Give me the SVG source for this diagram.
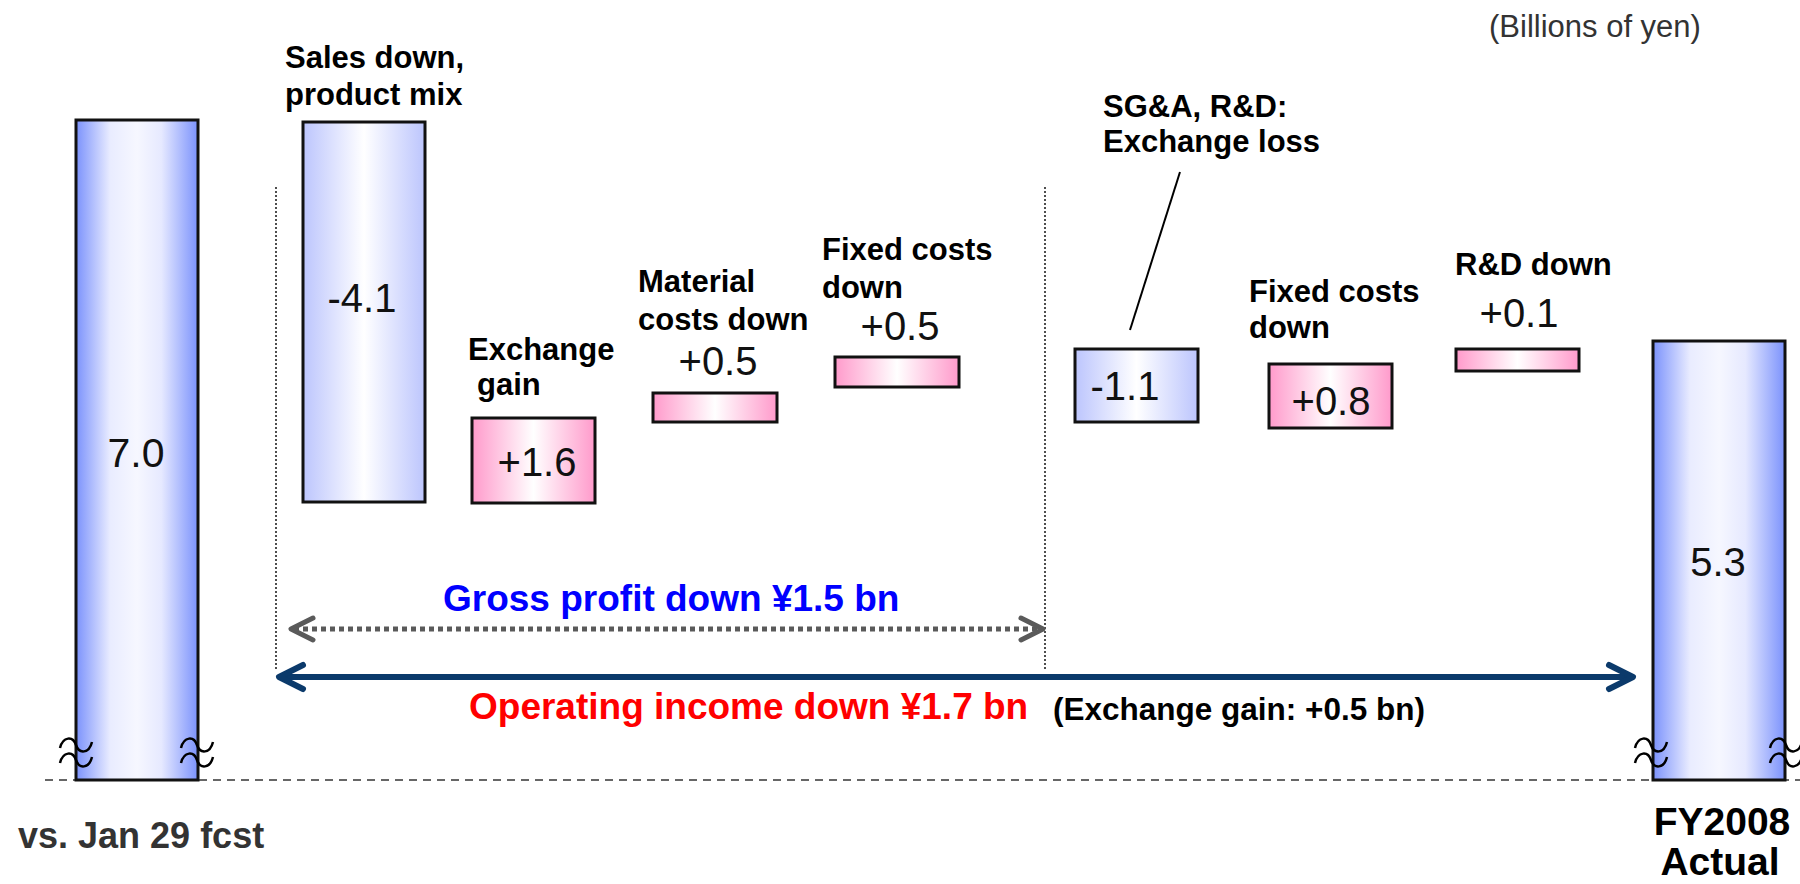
<svg xmlns="http://www.w3.org/2000/svg" width="1800" height="884" viewBox="0 0 1800 884">
<defs>
<linearGradient id="gBig" x1="0" y1="0" x2="1" y2="0">
<stop offset="0" stop-color="#7b92fc"/>
<stop offset="0.28" stop-color="#e9ecff"/>
<stop offset="0.5" stop-color="#f6f7ff"/>
<stop offset="0.7" stop-color="#e6e9ff"/>
<stop offset="1" stop-color="#7b92fc"/>
</linearGradient>
<linearGradient id="gBlue" x1="0" y1="0" x2="1" y2="0">
<stop offset="0" stop-color="#bcc5fd"/>
<stop offset="0.5" stop-color="#ffffff"/>
<stop offset="1" stop-color="#bcc5fd"/>
</linearGradient>
<linearGradient id="gPink" x1="0" y1="0" x2="1" y2="0">
<stop offset="0" stop-color="#ff9acb"/>
<stop offset="0.5" stop-color="#ffffff"/>
<stop offset="1" stop-color="#ff9acb"/>
</linearGradient>
<style>
.bar{stroke:#111;stroke-width:3}
.big{fill:url(#gBig)}
.blue{fill:url(#gBlue)}
.pink{fill:url(#gPink)}
.num{font-family:"Liberation Sans",Arial,sans-serif;font-size:40px;fill:#111;text-anchor:middle}
.lbl{font-family:"Liberation Sans",Arial,sans-serif;font-size:31px;font-weight:bold;fill:#000}
.wave{fill:none;stroke:#000;stroke-width:2.5}
.dotv{stroke:#222;stroke-width:1.6;stroke-dasharray:2 2}
</style>
</defs>
<rect width="1800" height="884" fill="#fff"/>

<text x="1489" y="37" style="font-family:'Liberation Sans',Arial,sans-serif;font-size:31px;fill:#333">(Billions of yen)</text>

<g id="baseline">
<line x1="45" y1="780" x2="1800" y2="780" stroke="#666" stroke-width="2" stroke-dasharray="8 6"/>
</g>

<g id="bar-start">
<rect class="bar big" x="76" y="120" width="122" height="660"/>
<text class="num" x="136" y="467" style="font-size:41px">7.0</text>
<path class="wave" d="M60,748 C63,736 73,736 76,745 C79,754 89,754 92,742"/>
<path class="wave" d="M60,763 C63,751 73,751 76,760 C79,769 89,769 92,757"/>
<path class="wave" d="M181,748 C184,736 194,736 197,745 C200,754 210,754 213,742"/>
<path class="wave" d="M181,763 C184,751 194,751 197,760 C200,769 210,769 213,757"/>
<text x="18" y="848" style="font-family:'Liberation Sans',Arial,sans-serif;font-size:36px;font-weight:bold;fill:#333">vs. Jan 29 fcst</text>
</g>

<g id="sales">
<rect class="bar blue" x="303" y="122" width="122" height="380"/>
<text class="num" x="362" y="312">-4.1</text>
<text class="lbl" x="285" y="68">Sales down,</text>
<text class="lbl" x="285" y="105">product mix</text>
</g>

<g id="exchange-gain">
<rect class="bar pink" x="472" y="418" width="123" height="85"/>
<text class="num" x="537" y="476">+1.6</text>
<text class="lbl" x="468" y="360">Exchange</text>
<text class="lbl" x="477" y="395">gain</text>
</g>

<g id="material">
<rect class="bar pink" x="653" y="393" width="124" height="29"/>
<text class="num" x="718" y="375">+0.5</text>
<text class="lbl" x="638" y="292">Material</text>
<text class="lbl" x="638" y="330">costs down</text>
</g>

<g id="fixed1">
<rect class="bar pink" x="835" y="357" width="124" height="30"/>
<text class="num" x="900" y="340">+0.5</text>
<text class="lbl" x="822" y="260">Fixed costs</text>
<text class="lbl" x="822" y="298">down</text>
</g>

<g id="sga">
<rect class="bar blue" x="1075" y="349" width="123" height="73"/>
<text class="num" x="1125" y="400">-1.1</text>
<text class="lbl" x="1103" y="117">SG&amp;A, R&amp;D:</text>
<text class="lbl" x="1103" y="152">Exchange loss</text>
<line x1="1180" y1="172" x2="1130" y2="330" stroke="#000" stroke-width="2"/>
</g>

<g id="fixed2">
<rect class="bar pink" x="1269" y="364" width="123" height="64"/>
<text class="num" x="1331" y="415">+0.8</text>
<text class="lbl" x="1249" y="302">Fixed costs</text>
<text class="lbl" x="1249" y="338">down</text>
</g>

<g id="rd">
<rect class="bar pink" x="1456" y="349" width="123" height="22"/>
<text class="num" x="1519" y="327">+0.1</text>
<text class="lbl" x="1455" y="275">R&amp;D down</text>
</g>

<g id="bar-end">
<rect class="bar big" x="1653" y="341" width="132" height="439"/>
<text class="num" x="1718" y="576">5.3</text>
<path class="wave" d="M1635,748 C1638,736 1648,736 1651,745 C1654,754 1664,754 1667,742"/>
<path class="wave" d="M1635,763 C1638,751 1648,751 1651,760 C1654,769 1664,769 1667,757"/>
<path class="wave" d="M1770,748 C1773,736 1783,736 1786,745 C1789,754 1799,754 1802,742"/>
<path class="wave" d="M1770,763 C1773,751 1783,751 1786,760 C1789,769 1799,769 1802,757"/>
<text x="1722" y="835" text-anchor="middle" style="font-family:'Liberation Sans',Arial,sans-serif;font-size:39px;font-weight:bold;fill:#000">FY2008</text>
<text x="1720" y="875" text-anchor="middle" style="font-family:'Liberation Sans',Arial,sans-serif;font-size:39px;font-weight:bold;fill:#000">Actual</text>
</g>

<g id="connectors">
<line class="dotv" x1="276" y1="187" x2="276" y2="670"/>
<line class="dotv" x1="1045" y1="187" x2="1045" y2="671"/>
<line x1="294" y1="629" x2="1040" y2="629" stroke="#5a5a5a" stroke-width="5" stroke-dasharray="5 4"/>
<polyline points="313,618 291,629 313,640" fill="none" stroke="#5a5a5a" stroke-width="5" stroke-linecap="round" stroke-linejoin="round"/>
<polyline points="1021,618 1043,629 1021,640" fill="none" stroke="#5a5a5a" stroke-width="5" stroke-linecap="round" stroke-linejoin="round"/>
<line x1="281" y1="677" x2="1631" y2="677" stroke="#0b3a6b" stroke-width="6"/>
<polyline points="303,665 279,677 303,689" fill="none" stroke="#0b3a6b" stroke-width="6" stroke-linecap="round" stroke-linejoin="round"/>
<polyline points="1609,665 1633,677 1609,689" fill="none" stroke="#0b3a6b" stroke-width="6" stroke-linecap="round" stroke-linejoin="round"/>
</g>

<g id="annotations">
<text x="443" y="611" style="font-family:'Liberation Sans',Arial,sans-serif;font-size:37px;font-weight:bold;fill:#0000ff">Gross profit down ¥1.5 bn</text>
<text x="469" y="719" style="font-family:'Liberation Sans',Arial,sans-serif;font-size:37px;font-weight:bold;fill:#ff0000">Operating income down ¥1.7 bn</text>
<text x="1053" y="720" style="font-family:'Liberation Sans',Arial,sans-serif;font-size:31.5px;font-weight:bold;fill:#000">(Exchange gain: +0.5 bn)</text>
</g>
</svg>
